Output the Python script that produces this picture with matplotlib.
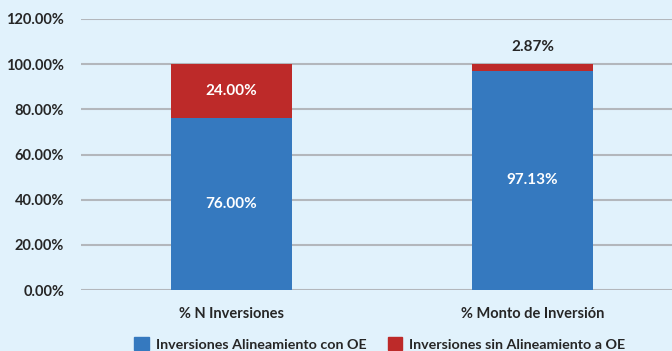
import matplotlib
matplotlib.use("Agg")
import matplotlib.pyplot as plt
from matplotlib.ticker import FuncFormatter
from matplotlib.patches import Patch

# data
categories = ["% N Inversiones", "% Monto de Inversión"]
alineadas = [76.00, 97.13]
sin_alinear = [24.00, 2.87]
series_names = ["Inversiones Alineamiento con OE", "Inversiones sin Alineamiento a OE"]

blue = "#3579bf"
red = "#bd2a29"
bg = "#e1f2fc"
txt = "#262626"

plt.rcParams["font.family"] = ["Lato", "DejaVu Sans"]
plt.rcParams["font.weight"] = "bold"

fig = plt.figure(figsize=(6.72, 3.51), dpi=100, facecolor=bg)
ax = fig.add_axes([81 / 672, 61 / 351, 591 / 672, 271 / 351])
ax.set_facecolor(bg)

x = range(len(categories))
ax.bar(x, alineadas, width=0.402, color=blue, zorder=3)
ax.bar(x, sin_alinear, width=0.402, bottom=alineadas, color=red, zorder=3)

# value labels
for i in x:
    ax.text(i, alineadas[i] / 2, f"{alineadas[i]:.2f}%", ha="center", va="center",
            color="white", fontsize=11, fontweight="bold", zorder=4)
    top = alineadas[i] + sin_alinear[i]
    if sin_alinear[i] > 10:
        ax.text(i, alineadas[i] + sin_alinear[i] / 2, f"{sin_alinear[i]:.2f}%",
                ha="center", va="center", color="white", fontsize=11,
                fontweight="bold", zorder=4)
    else:
        ax.text(i, top + 7.5, f"{sin_alinear[i]:.2f}%", ha="center", va="center",
                color=txt, fontsize=11, fontweight="bold", zorder=4)

ax.set_ylim(0, 120)
ax.set_xlim(-0.5, 1.463)
ax.set_yticks(range(0, 121, 20))
ax.yaxis.set_major_formatter(FuncFormatter(lambda v, p: f"{v / 100:.2%}"))
ax.grid(axis="y", color="#b3b7bc", linewidth=1.5, zorder=0)
ax.set_xticks(list(x))
ax.set_xticklabels(categories)
ax.tick_params(axis="both", length=0, labelsize=10.5, labelcolor=txt)
ax.tick_params(axis="y", pad=12)
ax.tick_params(axis="x", pad=12)
for s in ax.spines.values():
    s.set_visible(False)

handles = [Patch(color=blue), Patch(color=red)]
fig.legend(handles, series_names, loc="center", bbox_to_anchor=(380 / 672, 1 - 344 / 351),
           ncol=2, frameon=False, fontsize=10.3, handlelength=1.0, handleheight=1.0,
           handletextpad=0.5, columnspacing=1.5, labelcolor=txt)

fig.savefig("out.png", dpi=100, facecolor=bg)
